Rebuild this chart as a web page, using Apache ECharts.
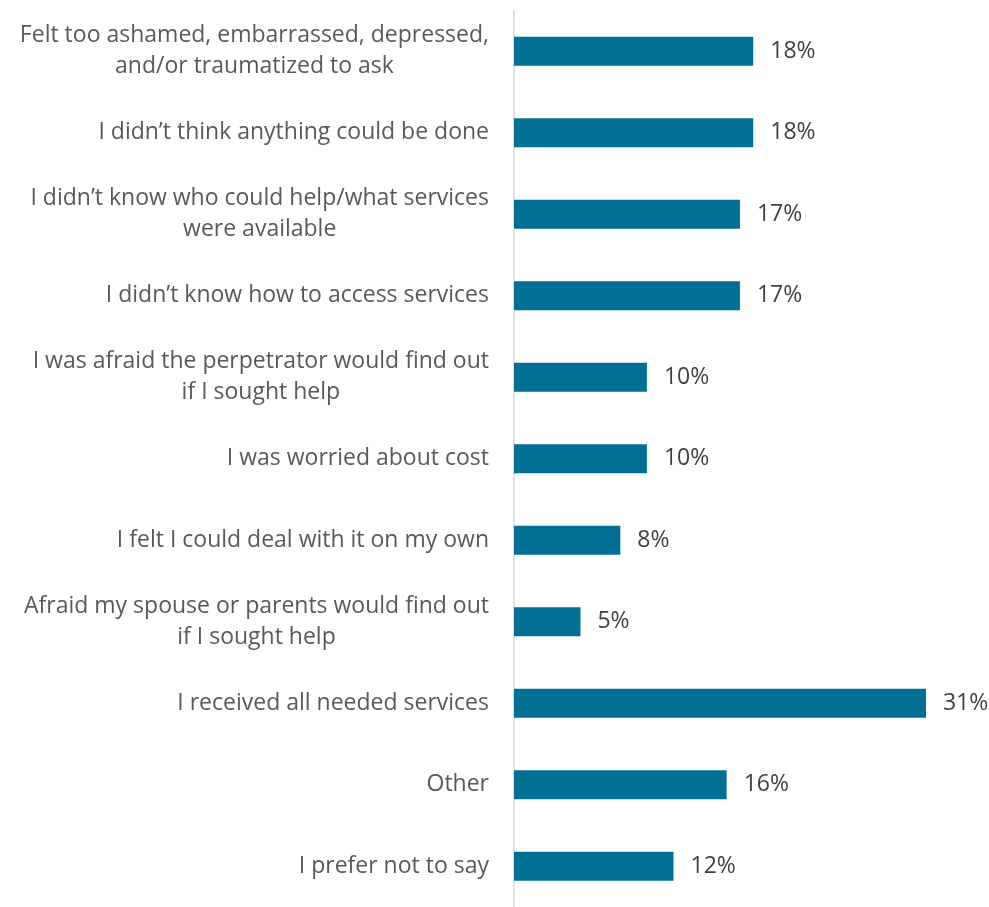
<!DOCTYPE html>
<html>
<head>
<meta charset="utf-8">
<script src="https://cdn.jsdelivr.net/npm/echarts@6/dist/echarts.min.js"></script>
<style>
  html, body { margin: 0; padding: 0; background: #ffffff; }
  #chart { width: 989px; height: 907px; }
</style>
</head>
<body>
<div id="chart"></div>
<script>
// Reasons given for not seeking help (share of respondents, %)
const categories = [
  'Felt too ashamed, embarrassed, depressed,\nand/or traumatized to ask',
  'I didn’t think anything could be done',
  'I didn’t know who could help/what services\nwere available',
  'I didn’t know how to access services',
  'I was afraid the perpetrator would find out\nif I sought help',
  'I was worried about cost',
  'I felt I could deal with it on my own',
  'Afraid my spouse or parents would find out\nif I sought help',
  'I received all needed services',
  'Other',
  'I prefer not to say'
];
const values = [18, 18, 17, 17, 10, 10, 8, 5, 31, 16, 12];

const FONT = '"Open Sans", Lato, sans-serif';

const chart = echarts.init(document.getElementById('chart'), null, { renderer: 'canvas' });
chart.setOption({
  animation: false,
  backgroundColor: '#ffffff',
  grid: { left: 514, top: 10.5, width: 412, height: 901, containLabel: false },
  xAxis: {
    type: 'value',
    min: 0,
    max: 31,
    show: false
  },
  yAxis: {
    type: 'category',
    data: categories,
    inverse: true,
    axisLine: { show: true, lineStyle: { color: '#d9d9d9', width: 1.5 } },
    axisTick: { show: false },
    axisLabel: {
      margin: 25,
      align: 'right',
      formatter: function (v) {
        return v.split('\n').map(function (s) { return '{c|' + s + '}'; }).join('\n');
      },
      rich: {
        c: {
          align: 'center',
          fontFamily: FONT,
          fontSize: 23,
          lineHeight: 31,
          color: '#595959'
        }
      }
    }
  },
  series: [{
    type: 'bar',
    data: values,
    barWidth: 29,
    itemStyle: { color: '#026f94' },
    label: {
      show: true,
      position: 'right',
      distance: 17,
      formatter: '{c}%',
      fontFamily: FONT,
      fontSize: 23,
      color: '#404040'
    }
  }]
});
</script>
</body>
</html>
